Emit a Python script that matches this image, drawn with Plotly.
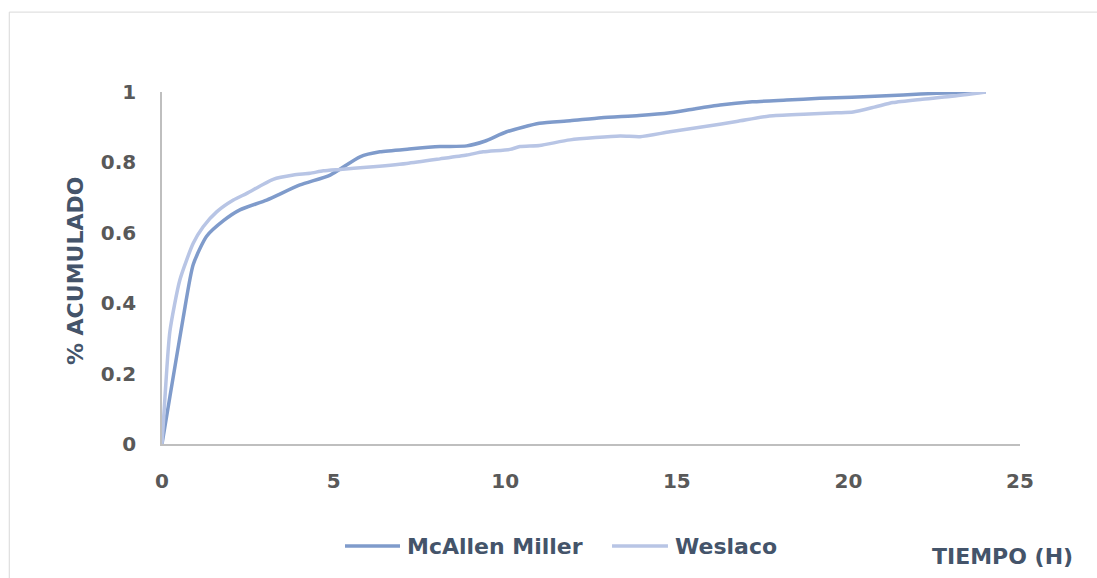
import plotly.graph_objects as go

mc_t = [0, 0.23, 0.62, 0.91, 1.3, 1.8, 2.27, 3.05, 4.02, 4.9, 5.77, 6.35, 7.2, 8.1, 8.88, 9.4, 10.04, 11.0, 11.89, 12.8, 13.9, 14.8, 15.5, 16.26, 17.2, 18.2, 19.17, 20.1, 21.1, 22.1, 23.05, 24.0]
mc_v = [0, 0.134, 0.36, 0.51, 0.59, 0.635, 0.665, 0.693, 0.736, 0.764, 0.816, 0.83, 0.838, 0.845, 0.847, 0.86, 0.887, 0.911, 0.918, 0.927, 0.933, 0.941, 0.952, 0.963, 0.972, 0.977, 0.982, 0.985, 0.989, 0.994, 0.998, 1.0]

we_t = [0, 0.087, 0.23, 0.52, 0.91, 1.2, 1.6, 2.08, 2.47, 3.24, 3.83, 4.31, 4.7, 5.19, 5.96, 7.13, 8.1, 8.88, 9.36, 10.14, 10.43, 11.0, 11.89, 13.35, 13.93, 14.8, 15.77, 16.74, 17.7, 18.7, 19.66, 20.14, 20.8, 21.3, 22.1, 22.96, 24.0]
we_v = [0, 0.134, 0.32, 0.466, 0.57, 0.617, 0.66, 0.693, 0.712, 0.752, 0.764, 0.769, 0.776, 0.78, 0.786, 0.797, 0.81, 0.821, 0.83, 0.837, 0.845, 0.848, 0.864, 0.875, 0.873, 0.887, 0.901, 0.916, 0.932, 0.937, 0.941, 0.943, 0.958, 0.97, 0.979, 0.987, 1.0]

series_names = ["McAllen Miller", "Weslaco"]
series_colors = ["#7F9BCB", "#B8C5E5"]

x_ticks = [0, 5, 10, 15, 20, 25]
y_ticks = [0, 0.2, 0.4, 0.6, 0.8, 1]
y_tick_text = ["0", "0.2", "0.4", "0.6", "0.8", "1"]

FONT = "DejaVu Sans"
TICK_COLOR = "#595959"
TITLE_COLOR = "#44546A"

fig = go.Figure()
for t, v, name, col in [(mc_t, mc_v, series_names[0], series_colors[0]),
                        (we_t, we_v, series_names[1], series_colors[1])]:
    fig.add_trace(go.Scatter(x=t, y=v, mode="lines", name=name, showlegend=False,
                             line=dict(color=col, width=3.5, shape="spline", smoothing=0.6)))

# custom legend (longer line samples like the original)
legend_items = [(0.2133, 0.2774, 0.2832), (0.5245, 0.5897, 0.5956)]
shapes = [dict(type="rect", xref="paper", yref="paper", x0=-0.178, x1=1.2, y0=-0.5, y1=1.227,
               line=dict(color="#D9D9D9", width=1), fillcolor="rgba(0,0,0,0)", layer="below")]
annotations = [
    dict(text="% ACUMULADO", xref="paper", yref="paper", x=-0.1014, y=0.494, textangle=-90,
         showarrow=False, xanchor="center", yanchor="middle",
         font=dict(family=FONT, size=22, color=TITLE_COLOR, weight="bold")),
    dict(text="TIEMPO (H)", xref="paper", yref="paper", x=0.9796, y=-0.321,
         showarrow=False, xanchor="center", yanchor="middle",
         font=dict(family=FONT, size=22, color=TITLE_COLOR, weight="bold")),
]
for (lx0, lx1, tx), name, col in zip(legend_items, series_names, series_colors):
    shapes.append(dict(type="line", xref="paper", yref="paper", x0=lx0, x1=lx1, y0=-0.2898, y1=-0.2898,
                       line=dict(color=col, width=3.5)))
    annotations.append(dict(text=name, xref="paper", yref="paper", x=tx, y=-0.2898,
                            showarrow=False, xanchor="left", yanchor="middle",
                            font=dict(family=FONT, size=22, color=TITLE_COLOR, weight="bold")))

fig.update_layout(
    width=1097, height=578,
    margin=dict(l=162, r=77, t=92, b=134),
    paper_bgcolor="white", plot_bgcolor="white",
    font=dict(family=FONT, size=20, color=TICK_COLOR),
    showlegend=False,
    xaxis=dict(range=[0, 25], tickvals=x_ticks, showgrid=False, zeroline=False,
               showline=True, linecolor="#BFBFBF", linewidth=1.5,
               ticks="", ticklabelstandoff=18,
               tickfont=dict(family=FONT, size=20, color=TICK_COLOR, weight="bold")),
    yaxis=dict(range=[0, 1], tickvals=y_ticks, ticktext=y_tick_text, showgrid=False, zeroline=False,
               showline=True, linecolor="#BFBFBF", linewidth=1.5,
               ticks="", ticklabelstandoff=20,
               tickfont=dict(family=FONT, size=20, color=TICK_COLOR, weight="bold")),
    shapes=shapes,
    annotations=annotations,
)

fig.write_html("out.html")
